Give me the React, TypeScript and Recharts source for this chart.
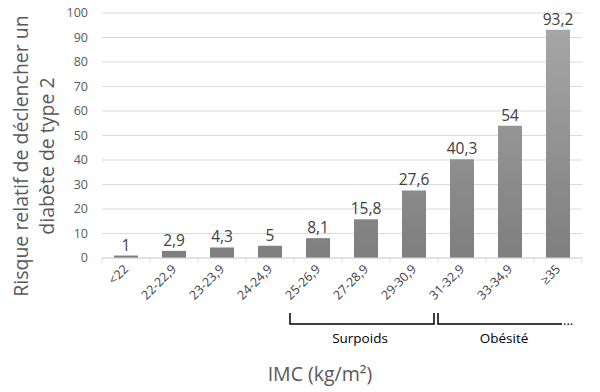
import React from "react";
import { BarChart, Bar, XAxis, YAxis, CartesianGrid, LabelList } from "recharts";

const categories = ["<22", "22-22,9", "23-23,9", "24-24,9", "25-26,9", "27-28,9", "29-30,9", "31-32,9", "33-34,9", "≥35"];
const risk = [1, 2.9, 4.3, 5, 8.1, 15.8, 27.6, 40.3, 54, 93.2];
const yTicks = [0, 10, 20, 30, 40, 50, 60, 70, 80, 90, 100];
const yTitleLines = ["Risque relatif de déclencher un", "diabète de type 2"];
const xTitle = "IMC (kg/m²)";
const groups = [
  { name: "Surpoids", from: 4, to: 7, open: false },
  { name: "Obésité", from: 7, to: 10, open: true },
];

const data = categories.map((c, i) => ({ cat: c, value: risk[i] }));

const W = 600;
const H = 392;
const Y_W = 102;
const M_RIGHT = 18;
const M_TOP = 13;
const PLOT_H = 245;
const X_H = H - M_TOP - PLOT_H;
const PLOT_W = W - Y_W - M_RIGHT;
const BAND = PLOT_W / categories.length;
const AXIS_Y = M_TOP + PLOT_H;
const FONT = "'Open Sans', sans-serif";

const boundary = (i: number) => Y_W + i * BAND;

const XTick = (props: any) => {
  const { x, payload, index } = props;
  return (
    <g>
      <line x1={x - BAND / 2} x2={x - BAND / 2} y1={AXIS_Y} y2={AXIS_Y + 5} stroke="#d9d9d9" />
      {index === categories.length - 1 && (
        <line x1={x + BAND / 2} x2={x + BAND / 2} y1={AXIS_Y} y2={AXIS_Y + 5} stroke="#d9d9d9" />
      )}
      <text
        x={x + 3}
        y={AXIS_Y + 12}
        transform={`rotate(-45 ${x + 3} ${AXIS_Y + 12})`}
        textAnchor="end"
        fontSize={12.5}
        fontFamily={FONT}
        fill="#404040"
      >
        {payload.value}
      </text>
    </g>
  );
};

const fmt = (v: any) => String(v).replace(".", ",");

export default function App() {
  const bTop = 313;
  const bBot = 324;
  return (
    <div style={{ position: "absolute", left: 0, top: 0, width: W, height: H, background: "#fff" }}>
      <BarChart
        width={W}
        height={H}
        data={data}
        margin={{ top: M_TOP, right: M_RIGHT, bottom: 0, left: 0 }}
        barSize={24}
      >
        <defs>
          <linearGradient id="barGrad" gradientUnits="userSpaceOnUse" x1="0" y1={M_TOP} x2="0" y2={AXIS_Y}>
            <stop offset="0%" stopColor="#a9a9a9" />
            <stop offset="100%" stopColor="#7e7e7e" />
          </linearGradient>
        </defs>
        <CartesianGrid vertical={false} stroke="#d9d9d9" />
        <XAxis
          dataKey="cat"
          interval={0}
          height={X_H}
          axisLine={{ stroke: "#d9d9d9" }}
          tickLine={false}
          tick={<XTick />}
        />
        <YAxis
          width={Y_W}
          domain={[0, 100]}
          ticks={yTicks}
          axisLine={false}
          tickLine={false}
          tickMargin={8}
          tick={{ fontSize: 12.5, fill: "#595959", fontFamily: FONT }}
        />
        <Bar dataKey="value" fill="url(#barGrad)" isAnimationActive={false}>
          <LabelList
            dataKey="value"
            position="top"
            formatter={fmt}
            fill="#404040"
            fontSize={15.5}
            fontFamily={FONT}
          />
        </Bar>
      </BarChart>
      <svg width={W} height={H} style={{ position: "absolute", left: 0, top: 0, pointerEvents: "none" }}>
        <text
          transform="translate(20 156) rotate(-90)"
          textAnchor="middle"
          dominantBaseline="central"
          fontSize={19.5}
          fontFamily={FONT}
          fill="#595959"
        >
          {yTitleLines[0]}
        </text>
        <text
          transform="translate(46 156) rotate(-90)"
          textAnchor="middle"
          dominantBaseline="central"
          fontSize={19.5}
          fontFamily={FONT}
          fill="#595959"
        >
          {yTitleLines[1]}
        </text>
        <text
          x={Y_W + PLOT_W / 2 - 22}
          y={373}
          textAnchor="middle"
          dominantBaseline="central"
          fontSize={19.5}
          fontFamily={FONT}
          fill="#595959"
        >
          {xTitle}
        </text>
        {groups.map((g) => {
          const x1 = g.from === 4 ? boundary(g.from) - 4 : boundary(g.from);
          const x2 = g.open ? boundary(g.to) - 20 : boundary(g.to) - 4;
          return (
            <g key={g.name}>
              <path
                d={g.open ? `M${x1},${bTop} V${bBot} H${x2}` : `M${x1},${bTop} V${bBot} H${x2} V${bTop}`}
                fill="none"
                stroke="#000"
                strokeWidth={1.5}
              />
              {g.open && (
                <text x={x2 + 1} y={bBot + 1} fontSize={13} fontFamily={FONT} fill="#000">
                  ...
                </text>
              )}
              <text
                x={(boundary(g.from) + boundary(g.to)) / 2 - 6}
                y={338}
                textAnchor="middle"
                dominantBaseline="central"
                fontSize={13.5}
                fontFamily={FONT}
                fill="#000"
              >
                {g.name}
              </text>
            </g>
          );
        })}
      </svg>
    </div>
  );
}
